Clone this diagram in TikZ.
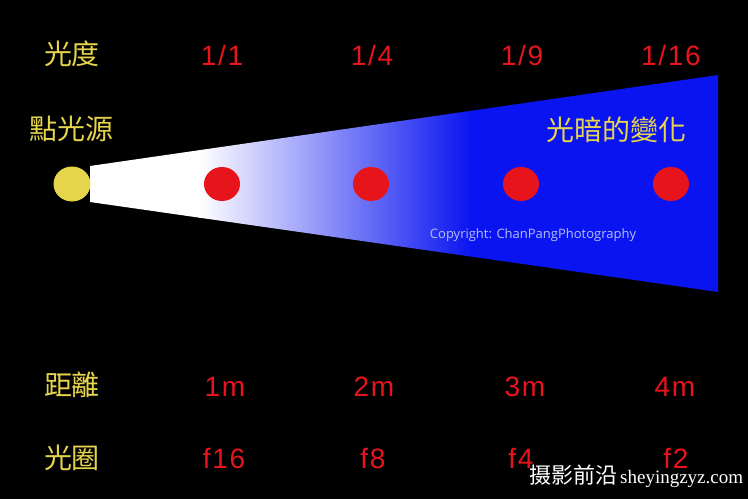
\documentclass[tikz,border=0pt]{standalone}
\usepackage{fontspec}
\setmainfont{Liberation Sans}
\newfontfamily\cjk{Noto Sans CJK TC}
\newfontfamily\cjksc{Noto Sans CJK SC}
\newfontfamily\redfont[LetterSpace=6]{Liberation Sans}
\newfontfamily\copyfont{Open Sans}
\newfontfamily\wmfont{Liberation Serif}
\definecolor{lbl}{HTML}{E6D44C}
\definecolor{rd}{HTML}{E8141C}
\definecolor{coneblue}{HTML}{0A14F0}
\definecolor{copyc}{HTML}{B4BEF0}
\tikzset{
  ylabel/.style={text=lbl,font=\cjk\fontsize{28}{30}\selectfont,inner sep=0pt,anchor=center},
  rlabel/.style={text=rd,font=\redfont\fontsize{28}{30}\selectfont,inner sep=0pt,anchor=center},
  dot/.style={fill=rd,ellipse,minimum width=36pt,minimum height=34pt,inner sep=0pt},
}
\usetikzlibrary{shapes.geometric}
\begin{document}
\begin{tikzpicture}[x=1pt,y=-1pt]
\fill[black] (0,0) rectangle (748,499);
\useasboundingbox (0,0) rectangle (748,499);
% cone
\begin{scope}
\clip (90,166) -- (718,75) -- (718,292) -- (90,202) -- cycle;
\fill[white] (85,70) rectangle (200,300);
\shade[left color=white,right color=coneblue] (199,70) rectangle (471,300);
\fill[coneblue] (470,70) rectangle (725,300);
\end{scope}
% source and dots
\node[fill=lbl,ellipse,minimum width=37pt,minimum height=35pt,inner sep=0pt] (src) at (72,184) {};
\node[dot] (d1) at (222,184) {};
\node[dot] (d2) at (371,184) {};
\node[dot] (d3) at (521,184) {};
\node[dot] (d4) at (671,184) {};
% labels
\node[ylabel] (t1) at (72,54) {光度};
\node[ylabel] (t2) at (72,129) {點光源};
\node[ylabel] (t3) at (616,130) {光暗的變化};
\node[ylabel] (t4) at (72,385) {距離};
\node[ylabel] (t5) at (72,458) {光圈};
\node[rlabel] (b1) at (222,55) {1/1};
\node[rlabel] (b2) at (372,55) {1/4};
\node[rlabel] (b3) at (522,55) {1/9};
\node[rlabel] (b4) at (671,55) {1/16};
\node[rlabel] (m1) at (225,387) {1m};
\node[rlabel] (m2) at (374,387) {2m};
\node[rlabel] (m3) at (525,387) {3m};
\node[rlabel] (m4) at (675,387) {4m};
\node[rlabel] (f1) at (224,458) {f16};
\node[rlabel] (f2) at (373,458) {f8};
\node[rlabel] (f3) at (521,458) {f4};
\node[rlabel] (f4) at (676,458) {f2};
\node[text=copyc,font=\copyfont\fontsize{13}{15}\selectfont,inner sep=0pt] (cp) at (533,235) {Copyright: ChanPangPhotography};
\node[text=white,inner sep=0pt,anchor=west] (wm) at (529,476) {{\cjksc\fontsize{22}{24}\selectfont 摄影前沿}\hspace{3pt}{\wmfont\fontsize{19}{21}\selectfont sheyingzyz.com}};
\end{tikzpicture}
\end{document}
